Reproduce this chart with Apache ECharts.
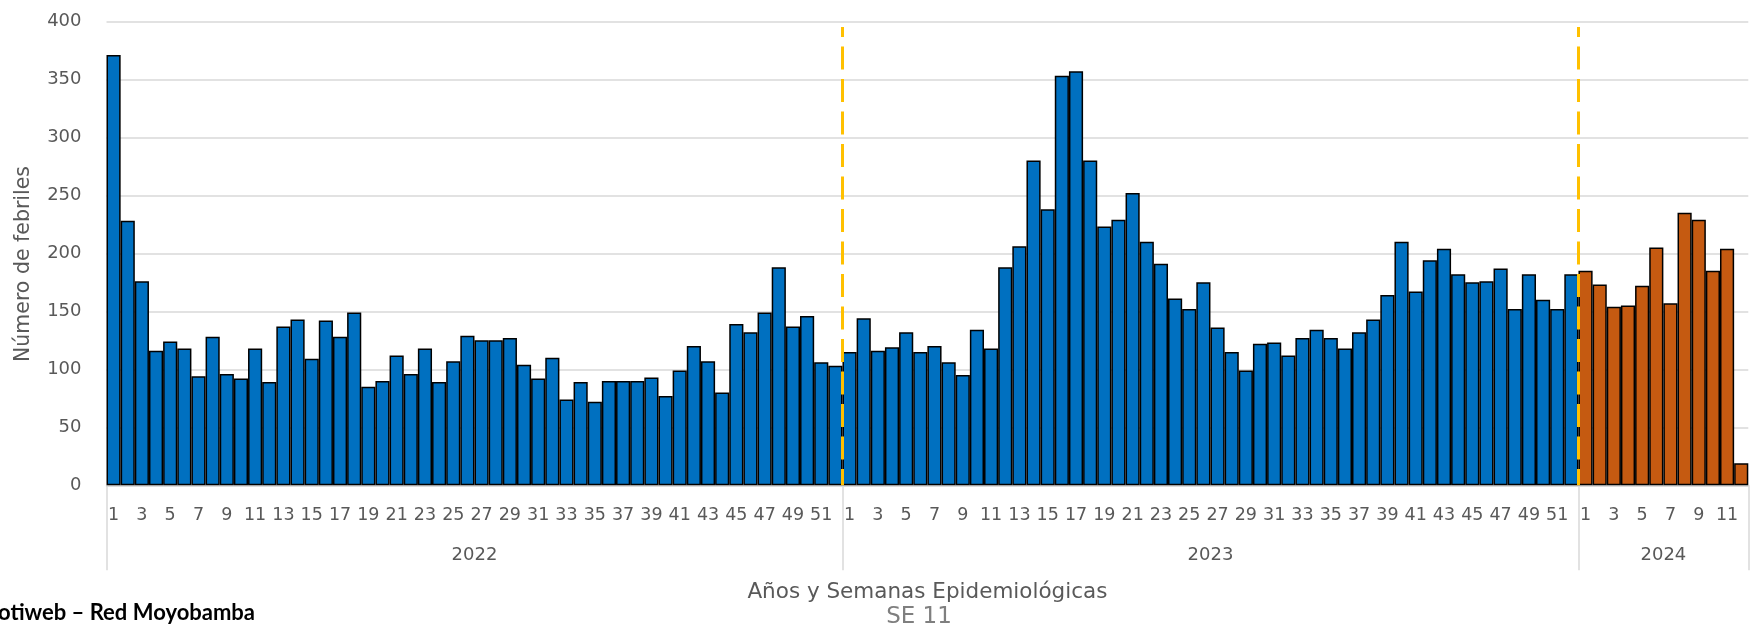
<!DOCTYPE html>
<html>
<head>
<meta charset="utf-8">
<title>Febriles por semana epidemiológica</title>
<script src="https://cdn.jsdelivr.net/npm/echarts@6/dist/echarts.min.js"></script>
<style>
  html, body { margin: 0; padding: 0; background: #fff; }
  #main { width: 1757px; height: 629px; }
</style>
</head>
<body>
<div id="main"></div>
<script>
// datos (febriles por semana)
var years = ['2022', '2023', '2024'];
var values2022 = [371, 228, 176, 116, 124, 118, 94, 128, 96, 92, 118, 89, 137, 143, 109, 142, 128, 149, 85, 90,
                  112, 96, 118, 89, 107, 129, 125, 125, 127, 104, 92, 110, 74, 89, 72, 90, 90, 90, 93, 77,
                  99, 120, 107, 80, 139, 132, 149, 188, 137, 146, 106, 103];
var values2023 = [115, 144, 116, 119, 132, 115, 120, 106, 95, 134, 118, 188, 206, 280, 238, 353, 357, 280, 223, 229,
                  252, 210, 191, 161, 152, 175, 136, 115, 99, 122, 123, 112, 127, 134, 127, 118, 132, 143, 164, 210,
                  167, 194, 204, 182, 175, 176, 187, 152, 182, 160, 152, 182];
var values2024 = [185, 173, 154, 155, 172, 205, 157, 235, 229, 185, 204, 19];
var yearValues = [values2022, values2023, values2024];
var yearColors = ['#0070C0', '#0070C0', '#C55A11'];

var weekLabels = [];
var barData = [];
var yearStarts = [];
var yearMids = [];
var pos = 0;
for (var y = 0; y < yearValues.length; y++) {
    yearStarts.push(pos);
    yearMids.push(pos + yearValues[y].length / 2);
    for (var w = 0; w < yearValues[y].length; w++) {
        weekLabels.push(String(w + 1));
        barData.push({ value: yearValues[y][w], itemStyle: { color: yearColors[y] } });
    }
    pos += yearValues[y].length;
}
var total = pos;
var separators = yearStarts.concat([total]);

var gris = '#595959';
var fuente = 'DejaVu Sans';

var myChart = echarts.init(document.getElementById('main'));
myChart.setOption({
    animation: false,
    grid: { left: 106.5, right: 8.7, top: 21.3, bottom: 143.7 },
    xAxis: [
        {
            type: 'category',
            data: weekLabels,
            axisLine: { show: true, lineStyle: { color: '#d9d9d9', width: 1.5 } },
            axisTick: { show: false },
            axisLabel: { interval: 1, color: gris, fontFamily: fuente, fontSize: 17.5, margin: 21 }
        },
        {
            type: 'value',
            min: 0,
            max: total,
            position: 'bottom',
            axisLine: { show: false },
            splitLine: { show: false },
            axisTick: {
                show: true, length: 85, customValues: separators,
                lineStyle: { color: '#d9d9d9', width: 1.5 }
            },
            axisLabel: {
                customValues: yearMids, margin: 61,
                color: gris, fontFamily: fuente, fontSize: 18,
                formatter: function (v) {
                    for (var i = 0; i < yearMids.length; i++) {
                        if (Math.abs(yearMids[i] - v) < 0.01) return years[i];
                    }
                    return '';
                }
            },
            name: 'Años y Semanas Epidemiológicas',
            nameLocation: 'middle',
            nameGap: 96,
            nameTextStyle: { color: gris, fontFamily: fuente, fontSize: 21.5 }
        }
    ],
    yAxis: {
        type: 'value',
        min: 0,
        max: 400,
        interval: 50,
        axisLine: { show: false },
        axisTick: { show: false },
        splitLine: { lineStyle: { color: '#d9d9d9', width: 1.5 } },
        axisLabel: { color: gris, fontFamily: fuente, fontSize: 18, margin: 25 }
    },
    graphic: [
        {
            // titulo del eje y, algo mas abajo que el centro del grafico
            type: 'text', x: 24, y: 264, rotation: Math.PI / 2,
            style: {
                text: 'Número de febriles', fill: gris, font: '20.5px "DejaVu Sans"',
                textAlign: 'center', textVerticalAlign: 'middle'
            }
        },
        {
            type: 'text', x: 919, y: 617,
            style: {
                text: 'SE 11', fill: '#7f7f7f', font: '23px "DejaVu Sans"',
                textAlign: 'center', textVerticalAlign: 'middle'
            }
        },
        {
            type: 'text', x: 255, y: 613,
            style: {
                text: 'Fuente: Notiweb – Red Moyobamba', fill: '#000',
                font: 'bold 22px Lato', textAlign: 'right', textVerticalAlign: 'middle'
            }
        }
    ],
    series: [
        {
            name: 'Febriles',
            type: 'bar',
            xAxisIndex: 0,
            barCategoryGap: '0%',
            itemStyle: { borderColor: '#000', borderWidth: 1.5 },
            data: barData
        },
        {
            name: 'cortes',
            type: 'line',
            xAxisIndex: 1,
            data: [],
            z: 10,
            markLine: {
                silent: true,
                symbol: 'none',
                label: { show: false },
                lineStyle: { color: '#FFC000', width: 3, type: [23, 9.5], dashOffset: 13 },
                data: [
                    [{ coord: [yearStarts[1], 395] }, { coord: [yearStarts[1], 0] }],
                    [{ coord: [yearStarts[2], 395] }, { coord: [yearStarts[2], 0] }]
                ]
            }
        }
    ]
});
</script>
</body>
</html>
